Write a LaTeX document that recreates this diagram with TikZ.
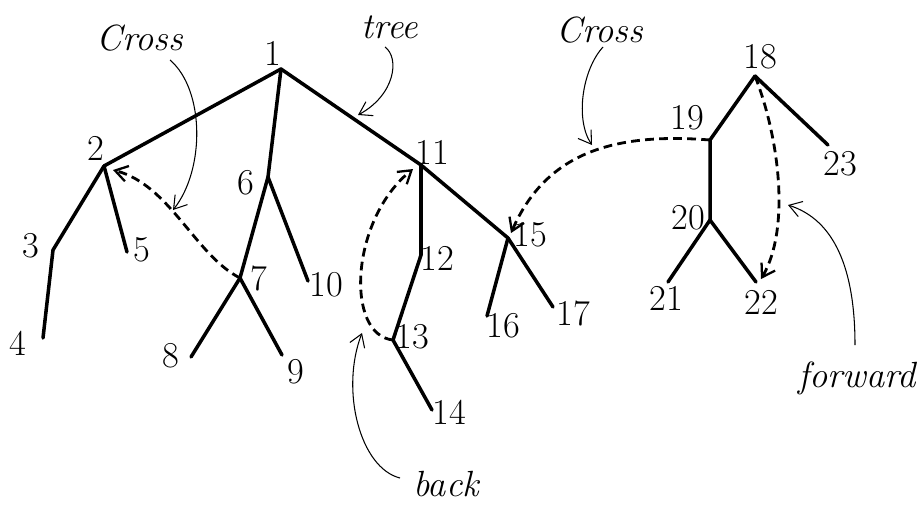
\documentclass[tikz,border=0pt]{standalone}
\usepackage{tikz}
\usetikzlibrary{arrows.meta, calc}

\tikzset{
  treeedge/.style={line width=2pt, line cap=round},
  nontree/.style={line width=1.6pt, dashed, dash pattern=on 5pt off 3pt,
                  -{Straight Barb[length=7pt, width=9pt, line width=1.3pt]}},
  pointer/.style={line width=0.6pt,
                  -{Straight Barb[length=7pt, width=9pt, line width=0.6pt]}},
  vlabel/.style={font=\huge, inner sep=0pt},
  note/.style={font=\huge\itshape, inner sep=0pt}
}

\begin{document}
\begin{tikzpicture}[x=0.02cm, y=-0.02cm]
\useasboundingbox (0,0) rectangle (923,504);

% vertices of the first tree
\coordinate (v1) at (281,69);
\coordinate (v2) at (104,166);
\coordinate (v3) at (53,250);
\coordinate (v4) at (43,338);
\coordinate (v5) at (127,252);
\coordinate (v6) at (268,177);
\coordinate (v7) at (240,278);
\coordinate (v8) at (191,357);
\coordinate (v9) at (282,355);
\coordinate (v10) at (308,281);
\coordinate (v11) at (421,165);
\coordinate (v12) at (421,255);
\coordinate (v13) at (393,340);
\coordinate (v14) at (432,410);
\coordinate (v15) at (508,238);
\coordinate (v16) at (487,316);
\coordinate (v17) at (553,307);

% vertices of the second tree
\coordinate (v18) at (755,76);
\coordinate (v19) at (710,140);
\coordinate (v20) at (710,220);
\coordinate (v21) at (668,282);
\coordinate (v22) at (756,282);
\coordinate (v23) at (828,145);

% tree edges
\draw[treeedge] (v1) -- (v2);
\draw[treeedge] (v1) -- (v6);
\draw[treeedge] (v1) -- (v11);
\draw[treeedge] (v2) -- (v3) -- (v4);
\draw[treeedge] (v2) -- (v5);
\draw[treeedge] (v6) -- (v7);
\draw[treeedge] (v6) -- (v10);
\draw[treeedge] (v7) -- (v8);
\draw[treeedge] (v7) -- (v9);
\draw[treeedge] (v11) -- (v12) -- (v13);
\draw[treeedge] (v13) -- (v14);
\draw[treeedge] (v11) -- (v15);
\draw[treeedge] (v15) -- (v16);
\draw[treeedge] (v15) -- (v17);
\draw[treeedge] (v18) -- (v19) -- (v20);
\draw[treeedge] (v18) -- (v23);
\draw[treeedge] (v20) -- (v21);
\draw[treeedge] (v20) -- (v22);

% vertex numbers
\node[vlabel] (l1) at (273,53) {1};
\node[vlabel] (l2) at (96,148) {2};
\node[vlabel] (l3) at (31,246) {3};
\node[vlabel] (l4) at (18,343) {4};
\node[vlabel] (l5) at (142,250) {5};
\node[vlabel] (l6) at (246,183) {6};
\node[vlabel] (l7) at (259,278) {7};
\node[vlabel] (l8) at (171,356) {8};
\node[vlabel] (l9) at (296,372) {9};
\node[vlabel] (l10) at (326,285) {10};
\node[vlabel] (l11) at (432,152) {11};
\node[vlabel] (l12) at (437,258) {12};
\node[vlabel] (l13) at (412,337) {13};
\node[vlabel] (l14) at (449,412) {14};
\node[vlabel] (l15) at (530,235) {15};
\node[vlabel] (l16) at (503,326) {16};
\node[vlabel] (l17) at (573,313) {17};
\node[vlabel] (l18) at (760,57) {18};
\node[vlabel] (l19) at (687,118) {19};
\node[vlabel] (l20) at (688,218) {20};
\node[vlabel] (l21) at (666,298) {21};
\node[vlabel] (l22) at (761,302) {22};
\node[vlabel] (l23) at (840,164) {23};

% non-tree edges
\draw[nontree] (v7) .. controls (195,255) and (170,185) .. ($(v2)+(9,4)$);
\draw[nontree] (v13) .. controls (345,335) and (350,220) .. ($(v11)+(-8,4)$);
\draw[nontree] (v19) .. controls (610,132) and (545,155) .. ($(v15)+(3,-5)$);
\draw[nontree] (v18) .. controls (780,140) and (790,230) .. ($(v22)+(5,-3)$);

% edge-type notes
\node[note] (ncrossa) at (140,38) {Cross};
\node[note] (ntree) at (390,27) {tree};
\node[note] (ncrossb) at (600,30) {Cross};
\node[note] (nback) at (446,484) {back};
\node[note] (nforward) at (857,378) {forward};

\coordinate (pcrossa) at (173,210);
\coordinate (ptree) at (358,115);
\coordinate (pcrossb) at (592,145);
\coordinate (pback) at (362,333);
\coordinate (pforward) at (788,205);

\draw[pointer] (170,60) .. controls (205,90) and (205,170) .. (pcrossa);
\draw[pointer] (385,47) .. controls (400,58) and (395,95) .. (ptree);
\draw[pointer] (603,47) .. controls (582,70) and (575,120) .. (pcrossb);
\draw[pointer] (400,478) .. controls (360,468) and (340,390) .. (pback);
\draw[pointer] (855,345) .. controls (855,270) and (835,220) .. (pforward);

\end{tikzpicture}
\end{document}
